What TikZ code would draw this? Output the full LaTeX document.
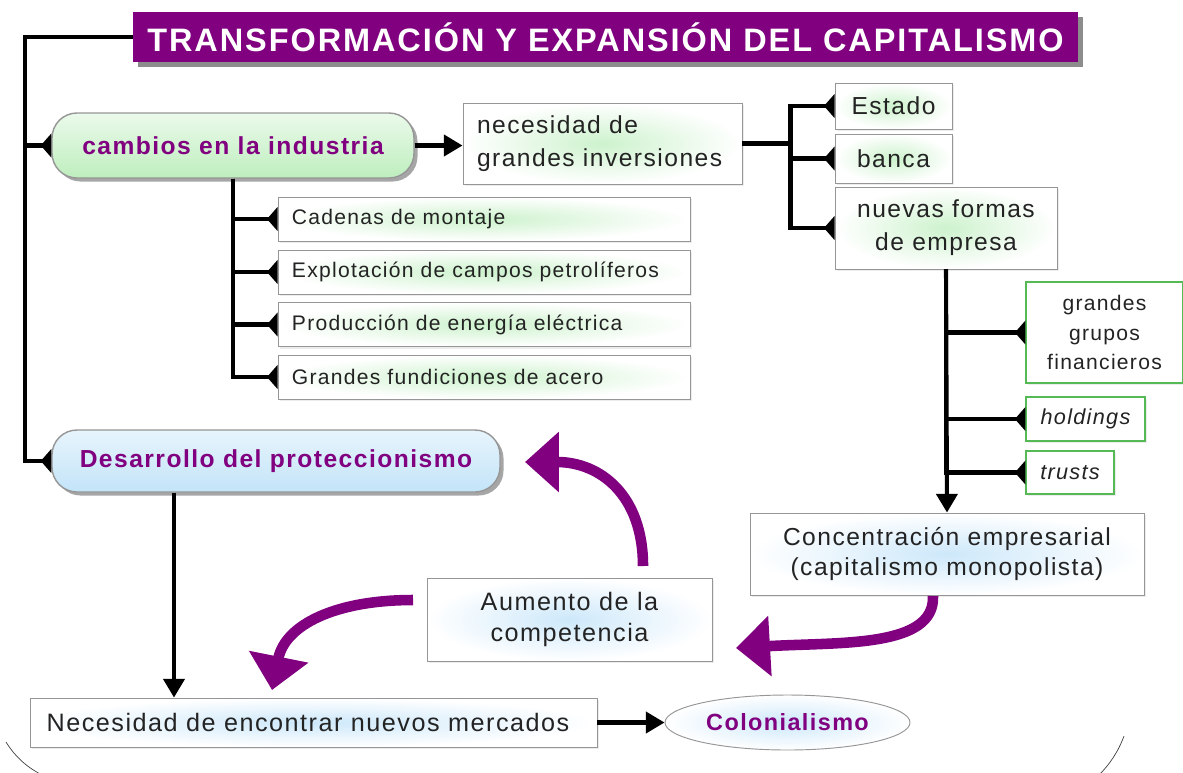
\documentclass[tikz,border=0pt]{standalone}
\usepackage{fontspec}
\setmainfont{Liberation Sans}[LetterSpace=6]
\usepackage{tikz}
\usetikzlibrary{arrows.meta}
\usetikzlibrary{shapes.geometric}
\usetikzlibrary{shadows}
\definecolor{morado}{RGB}{128,0,128}
\definecolor{gristexto}{RGB}{35,35,35}
\definecolor{borde}{RGB}{150,150,150}
\definecolor{bordeverde}{RGB}{85,185,85}
\definecolor{verdeclaro}{RGB}{205,242,205}
\definecolor{verdepill}{RGB}{190,238,190}
\definecolor{azulclaro}{RGB}{205,232,250}
\definecolor{azulpill}{RGB}{195,228,248}

\begin{document}
\begin{tikzpicture}[x=0.03cm,y=-0.03cm,
			title node/.style={fill=morado,text=white,inner sep=0pt,
				font=\fontsize{27.7}{30}\selectfont\bfseries,
				minimum width=28.35cm,minimum height=1.5cm,
				drop shadow={shadow xshift=4pt,shadow yshift=-4pt,fill=black!45,opacity=1}},
			pill/.style={draw=borde,line width=1.2pt,rounded corners=0.75cm,text=morado,
				font=\fontsize{21}{24}\selectfont\bfseries,inner sep=0pt,
				drop shadow={shadow xshift=3pt,shadow yshift=-3pt,fill=black!35,opacity=1}},
			box/.style={draw=borde,line width=0.8pt,text=gristexto,inner ysep=0pt,
				font=\fontsize{18}{22}\selectfont,
				drop shadow={shadow xshift=2pt,shadow yshift=-2pt,opacity=0.15}},
			green box/.style={box,shade,inner color=verdeclaro,outer color=white},
			blue box/.style={box,shade,inner color=azulclaro,outer color=white},
			leaf box/.style={box,fill=white,draw=bordeverde,line width=1pt,inner xsep=0pt,align=center},
			link/.style={line width=3.5pt,-{Triangle[reversed,length=9pt,width=20pt]}},
			arrow/.style={line width=3.5pt,-{Triangle[length=16pt,width=18pt]}},
			big arrow/.style={line width=9pt,morado,-{Triangle[length=29pt,width=50pt]}}]
			
			\useasboundingbox (0,0) rectangle (1183,772);
			\draw[black!75,line width=0.6pt] (6,742) .. controls (16,758) and (28,768) .. (44,776);
			\draw[black!75,line width=0.6pt] (1124,736) .. controls (1118,752) and (1110,764) .. (1098,776);
			
			\node[title node] (tit) at (605.5,37) {TRANSFORMACIÓN Y EXPANSIÓN DEL CAPITALISMO};
			\node[pill,top color=verdeclaro!40,bottom color=verdepill,
				minimum width=10.86cm,minimum height=1.95cm] (cam) at (233,145.5) {cambios en la industria};
			\node[pill,top color=azulpill!40,bottom color=azulpill,
				minimum width=13.44cm,minimum height=1.86cm] (des) at (276,461) {Desarrollo del proteccionismo};
			
			\node[green box,font=\fontsize{21}{28}\selectfont,inner xsep=0.42cm,
				text width=7.53cm,align=left,minimum height=2.43cm] (nec) at (602.5,143.5) {necesidad de\\grandes inversiones};
			\node[green box,font=\fontsize{21}{28}\selectfont,inner xsep=0pt,
				minimum width=3.51cm,minimum height=1.38cm] (est) at (893.5,106) {Estado};
			\node[green box,font=\fontsize{21}{28}\selectfont,inner xsep=0pt,
				minimum width=3.51cm,minimum height=1.47cm] (ban) at (893.5,158.5) {banca};
			\node[green box,font=\fontsize{21}{28}\selectfont,inner xsep=0pt,align=center,
				minimum width=6.66cm,minimum height=2.46cm] (nue) at (946,228) {nuevas formas\\de empresa};
			
			\node[green box,inner xsep=0.42cm,text width=11.52cm,align=left,minimum height=1.32cm] (cad) at (484,219) {Cadenas de montaje};
			\node[green box,inner xsep=0.42cm,text width=11.52cm,align=left,minimum height=1.32cm] (exp) at (484,272) {Explotación de campos petrolíferos};
			\node[green box,inner xsep=0.42cm,text width=11.52cm,align=left,minimum height=1.32cm] (pro) at (484,324.5) {Producción de energía eléctrica};
			\node[green box,inner xsep=0.42cm,text width=11.52cm,align=left,minimum height=1.32cm] (fun) at (484,377) {Grandes fundiciones de acero};
			
			\node[leaf box,font=\fontsize{18}{25}\selectfont,
				minimum width=4.71cm,minimum height=3.03cm] (gru) at (1104.5,332.5) {grandes\\grupos\\financieros};
			\node[leaf box,font=\fontsize{18.5}{22}\selectfont\itshape,
				minimum width=3.57cm,minimum height=1.32cm] (hol) at (1085.5,419) {holdings};
			\node[leaf box,font=\fontsize{18.5}{22}\selectfont\itshape,
				minimum width=2.64cm,minimum height=1.29cm] (tru) at (1070,472.5) {trusts};
			
			\node[blue box,font=\fontsize{21}{26}\selectfont,inner xsep=0pt,align=center,
				minimum width=11.82cm,minimum height=2.46cm] (con) at (947,554) {Concentración empresarial\\(capitalismo monopolista)};
			\node[blue box,font=\fontsize{21.5}{27}\selectfont,inner xsep=0pt,align=center,
				minimum width=8.55cm,minimum height=2.49cm] (aum) at (569.5,619.5) {Aumento de la\\competencia};
			\node[blue box,font=\fontsize{21.5}{24}\selectfont,inner xsep=0.5cm,
				text width=16.01cm,align=left,minimum height=1.47cm] (mer) at (313.5,722.5) {Necesidad de encontrar nuevos mercados};
			\node[ellipse,draw=borde,line width=0.8pt,shade,inner color=azulclaro,outer color=white,
				text=morado,font=\fontsize{20}{24}\selectfont\bfseries,inner sep=0pt,
				minimum width=7.35cm,minimum height=1.65cm] (col) at (787.5,722.5) {Colonialismo};
			
			\draw[link] (tit.west) -- ++(-108,0) |- (cam.west);
			\draw[link] (tit.west) -- ++(-108,0) |- (des.west);
			
			\draw[link] (cam.south) |- (cad.west);
			\draw[link] (cam.south) |- (exp.west);
			\draw[link] (cam.south) |- (pro.west);
			\draw[link] (cam.south) |- (fun.west);
			
			\draw[link] (nec.east) -- ++(48,0) |- (est.west);
			\draw[link] (nec.east) -- ++(48,0) |- (ban.west);
			\draw[link] (nec.east) -- ++(48,0) |- (nue.west);
			
			\draw[link] (nue.south) |- (gru.west);
			\draw[link] (nue.south) |- (hol.west);
			\draw[link] (nue.south) |- (tru.west);
			
			\path[arrow]
			(cam.east) edge (cam.east -| nec.west)
			(nue.south) edge (con.north)
			(174,0 |- des.south) edge (174,0 |- mer.north)
			(mer.east) edge (col.west);
			
			\coordinate (a1) at (643,566);
			\coordinate (b1) at (525,462);
			\coordinate (a2) at (413,600);
			\coordinate (b2) at (272,690);
			\coordinate (a3) at (933,596);
			\coordinate (b3) at (736,648);
			\draw[big arrow] (a1) .. controls (643,495) and (600,462) .. (b1);
			\draw[big arrow] (a2) .. controls (335,600) and (285,625) .. (b2);
			\draw[big arrow] (a3) .. controls (935,648) and (840,642) .. (b3);
			
		\end{tikzpicture}
\end{document}
